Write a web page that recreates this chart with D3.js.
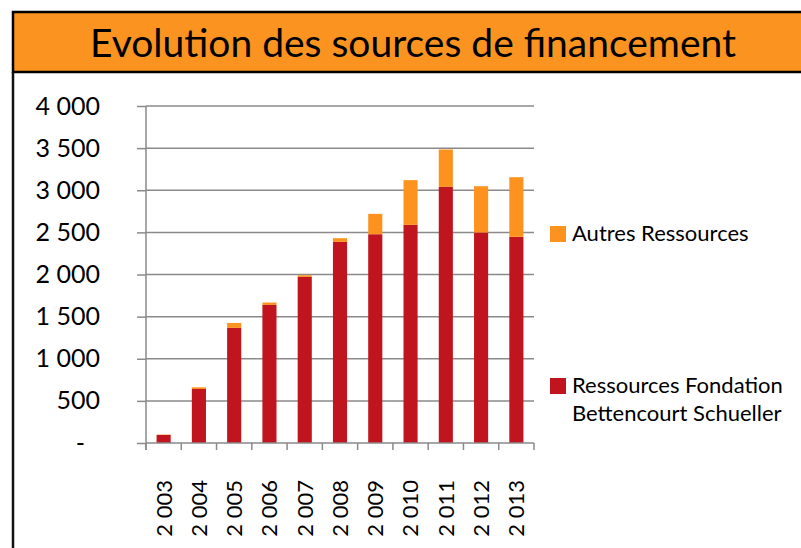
<!DOCTYPE html>
<html>
<head>
    <meta charset="utf-8" />
    <title>Evolution des sources de financement</title>
    <script src="https://cdnjs.cloudflare.com/ajax/libs/d3/7.8.5/d3.min.js" type="text/JavaScript"></script>
    <style>
      body { margin: 0; background: #fff; }
      svg { display: block; font-family: Lato, "Open Sans", sans-serif; }
    </style>
</head>
<body>
  <div id="viz">
    <svg width="801" height="548"></svg>
  </div>
  <script>
    // values (k€)
    let years = [2003, 2004, 2005, 2006, 2007, 2008, 2009, 2010, 2011, 2012, 2013]
    let fondation = [95, 641, 1366, 1639, 1971, 2387, 2478, 2589, 3040, 2498, 2447]
    let autres = [5, 20, 59, 28, 20, 44, 242, 531, 444, 550, 708]
    let yTicks = [0, 500, 1000, 1500, 2000, 2500, 3000, 3500, 4000]
    let seriesNames = ['Autres Ressources', 'Ressources Fondation|Bettencourt Schueller']

    let red = '#c0141e', orange = '#fd931e', grid = '#8a8a8a'
    let svg = d3.select('svg')

    // frame + title band
    svg.append('rect').attr('x', 13).attr('y', 12).attr('width', 800).attr('height', 60)
      .attr('fill', '#fa931f').attr('stroke', '#000').attr('stroke-width', 2.5)
    svg.append('line').attr('x1', 13).attr('x2', 13).attr('y1', 72).attr('y2', 548)
      .attr('stroke', '#111').attr('stroke-width', 2.5)
    svg.append('text').attr('x', 413).attr('y', 57).attr('text-anchor', 'middle')
      .attr('font-size', 39).attr('fill', '#000').text('Evolution des sources de financement')

    let xScale = d3.scaleBand().domain(years).range([146, 534]).paddingInner(0.6).paddingOuter(0.3)
    let yScale = d3.scaleLinear().domain([0, 4000]).range([443, 106])

    // gridlines
    svg.append('g').selectAll('line').data(yTicks.filter(d => d > 0)).join('line')
      .attr('x1', 146).attr('x2', 534)
      .attr('y1', d => yScale(d)).attr('y2', d => yScale(d))
      .attr('stroke', grid).attr('stroke-width', 1.5)

    // stacked bars
    let stack = years.map((y, i) => ({ year: y, f: fondation[i], a: autres[i] }))
    svg.append('g').selectAll('rect').data(stack).join('rect')
      .attr('x', d => xScale(d.year)).attr('width', xScale.bandwidth())
      .attr('y', d => yScale(d.f)).attr('height', d => yScale(0) - yScale(d.f))
      .attr('fill', red)
    svg.append('g').selectAll('rect').data(stack).join('rect')
      .attr('x', d => xScale(d.year)).attr('width', xScale.bandwidth())
      .attr('y', d => yScale(d.f + d.a)).attr('height', d => yScale(d.f) - yScale(d.f + d.a))
      .attr('fill', orange)

    // y axis
    let fmt = v => v === 0 ? '-' : d3.format(',')(v).replace(',', ' ')
    let yAxis = d3.axisLeft(yScale).tickValues(yTicks).tickSize(9).tickPadding(0).tickFormat(fmt)
    let gy = svg.append('g').attr('transform', 'translate(146,0)').call(yAxis)
    gy.select('.domain').attr('stroke', grid).attr('stroke-width', 1.5).attr('d', 'M0,106V450')
    gy.selectAll('.tick line').attr('stroke', grid).attr('stroke-width', 1.5)
    gy.selectAll('.tick text').attr('x', d => d === 0 ? -61 : -46).attr('font-size', 25)
      .attr('fill', '#000').attr('font-family', 'Lato')

    // x axis
    let edges = years.map(y => xScale(y) - xScale.step() * xScale.paddingInner() / 2).concat([534])
    edges[0] = 146
    svg.append('g').selectAll('line').data(edges).join('line')
      .attr('x1', d => d).attr('x2', d => d).attr('y1', 443).attr('y2', 450)
      .attr('stroke', grid).attr('stroke-width', 1.5)
    svg.append('line').attr('x1', 146).attr('x2', 534).attr('y1', 443).attr('y2', 443)
      .attr('stroke', grid).attr('stroke-width', 1.5)
    svg.append('g').selectAll('text').data(years).join('text')
      .attr('transform', d => 'translate(' + (xScale(d) + xScale.bandwidth() / 2) + ',480) rotate(-90)')
      .attr('text-anchor', 'end').attr('dy', '0.36em').attr('font-size', 22).attr('fill', '#000')
      .text(d => d3.format(',')(d).replace(',', ' '))

    // legend
    let legend = [{ name: seriesNames[0], color: orange, y: 226 }, { name: seriesNames[1], color: red, y: 378 }]
    let lg = svg.append('g').selectAll('g').data(legend).join('g')
    lg.append('rect').attr('x', 550).attr('y', d => d.y).attr('width', 16).attr('height', 16).attr('fill', d => d.color)
    lg.append('text').attr('x', 572).attr('y', d => d.y + 15).attr('font-size', 22).attr('fill', '#000')
      .selectAll('tspan').data(d => d.name.split('|')).join('tspan')
      .attr('x', 572).attr('dy', (d, i) => i === 0 ? 0 : 28).text(d => d)
  </script>
</body>
</html>
